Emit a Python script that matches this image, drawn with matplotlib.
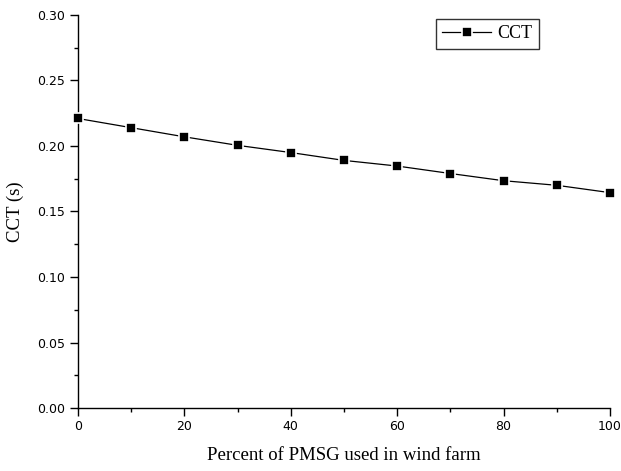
import matplotlib
matplotlib.use("Agg")
import matplotlib.pyplot as plt
from matplotlib.ticker import MultipleLocator

percent = [0, 10, 20, 30, 40, 50, 60, 70, 80, 90, 100]
cct = [0.221, 0.214, 0.207, 0.2005, 0.195, 0.189, 0.1847, 0.179, 0.1735, 0.170, 0.1644]

fig = plt.figure(figsize=(6.21, 4.71), dpi=100)
ax = fig.add_axes([78/621, 1-408/471, (610-78)/621, (408-15)/471])

ax.plot(percent, cct, color='black', lw=0.9, marker='s', markersize=6.5,
        markerfacecolor='black', markeredgecolor='white', markeredgewidth=1.2,
        label='CCT', clip_on=False, zorder=3)

ax.set_xlim(0, 100)
ax.set_ylim(0, 0.30)
ax.xaxis.set_major_locator(MultipleLocator(20))
ax.xaxis.set_minor_locator(MultipleLocator(10))
ax.yaxis.set_major_locator(MultipleLocator(0.05))
ax.yaxis.set_minor_locator(MultipleLocator(0.025))
ax.yaxis.set_major_formatter(matplotlib.ticker.FormatStrFormatter('%.2f'))

for s in ['top', 'right']:
    ax.spines[s].set_visible(False)
for s in ['left', 'bottom']:
    ax.spines[s].set_linewidth(1.0)

ax.tick_params(which='major', direction='out', length=6, width=1, labelsize=9, pad=3)
ax.tick_params(which='minor', direction='out', length=3, width=1)

ax.set_xlabel('Percent of PMSG used in wind farm', family='Liberation Serif', fontsize=13.5, labelpad=10)
ax.set_ylabel('CCT (s)', family='Liberation Serif', fontsize=13.5, labelpad=10)

leg = ax.legend(loc='upper left', bbox_to_anchor=((436-78)/532, 1-(19-15)/393),
                prop={'family': 'Liberation Serif', 'size': 13}, frameon=True,
                fancybox=False, edgecolor='black', handlelength=2.7, borderpad=0.35,
                handletextpad=0.35, borderaxespad=0)
leg.get_frame().set_linewidth(1.0)

fig.savefig('out.png', dpi=100)
